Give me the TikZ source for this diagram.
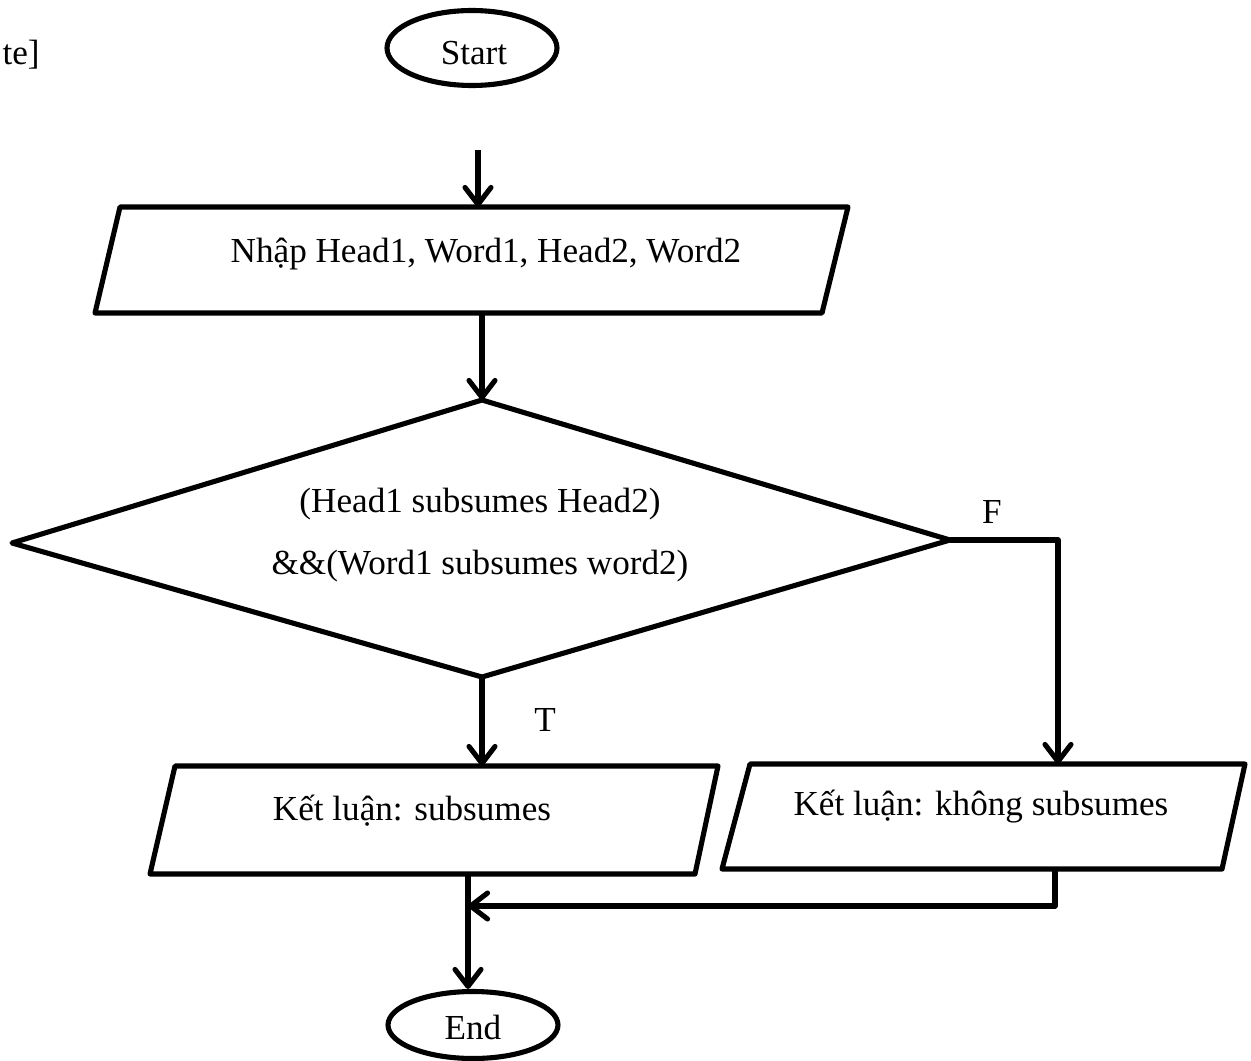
\documentclass[tikz,border=0pt]{standalone}
\usepackage{fontspec}
\setmainfont{Liberation Serif}
\usetikzlibrary{arrows.meta,shapes.geometric}
\begin{document}
\begin{tikzpicture}[x=0.02cm,y=-0.02cm,
  line width=2.9pt, line join=round,
  every node/.style={font=\fontsize{20}{24}\selectfont, inner sep=0pt},
  terminal/.style={draw, ellipse, minimum width=3.4cm, minimum height=1.5cm},
  flow/.style={-{Straight Barb[length=3.4mm,width=5.2mm,round]}},
  shapeline/.style={draw}]
\useasboundingbox (0,0) rectangle (1251,1061);

% margin note
\node[anchor=west] (note) at (0,55) {te]};

% terminals
\node[terminal] (start) at (472,48) {};
\node (starttext) at (474,53) {Start};
\node[terminal, minimum height=1.34cm] (end) at (473,1025) {};
\node (endtext) at (473,1027) {End};

% input parallelogram
\coordinate (p1tl) at (120,207);
\coordinate (p1tr) at (848,207);
\coordinate (p1br) at (822,313);
\coordinate (p1bl) at (95,313);
\draw[shapeline] (p1tl) -- (p1tr) -- (p1br) -- (p1bl) -- cycle;
\node (input) at (486,254) {Nhập Head1, Word1, Head2, Word2};
\coordinate (p1top) at (478,207);
\coordinate (p1bot) at (482,313);
\coordinate (feed) at (478,150);

% decision
\coordinate (dtop) at (482,400);
\coordinate (dleft) at (12,543);
\coordinate (dright) at (950,540);
\coordinate (dbot) at (482,677);
\draw[shapeline] (dtop) -- (dright) -- (dbot) -- (dleft) -- cycle;
\node (cond1) at (480,504) {(Head1 subsumes Head2)};
\node (cond2) at (480,566) {\&\&(Word1 subsumes word2)};

% output: subsumes
\coordinate (p2tl) at (175,766);
\coordinate (p2tr) at (718,766);
\coordinate (p2br) at (695,874);
\coordinate (p2bl) at (150,874);
\draw[shapeline] (p2tl) -- (p2tr) -- (p2br) -- (p2bl) -- cycle;
\node (yes) at (412,811) {Kết luận: subsumes};
\coordinate (p2top) at (482,766);
\coordinate (p2bot) at (468,874);

% output: not subsumes
\coordinate (p3tl) at (750,764);
\coordinate (p3tr) at (1245,764);
\coordinate (p3br) at (1222,869);
\coordinate (p3bl) at (722,869);
\draw[shapeline] (p3tl) -- (p3tr) -- (p3br) -- (p3bl) -- cycle;
\node (no) at (981,807) {Kết luận: không subsumes};
\coordinate (p3top) at (1058,764);
\coordinate (p3bot) at (1055,869);

% connectors
\coordinate (fcorner) at (1058,540);
\coordinate (mright) at (1055,906);
\coordinate (mleft) at (468,906);

\draw[flow] (feed) -- (p1top);
\draw[flow] (p1bot) -- (dtop);
\draw[flow] (dbot) -- (p2top);
\draw[flow] (dright) -- (fcorner) -- (p3top);
\draw[flow] (p3bot) -- (mright) -- (mleft);
\draw[flow] (p2bot) -- (p2bot |- end.north);

% branch labels
\node (tlabel) at (545,720) {T};
\node (flabel) at (992,512) {F};
\end{tikzpicture}
\end{document}
